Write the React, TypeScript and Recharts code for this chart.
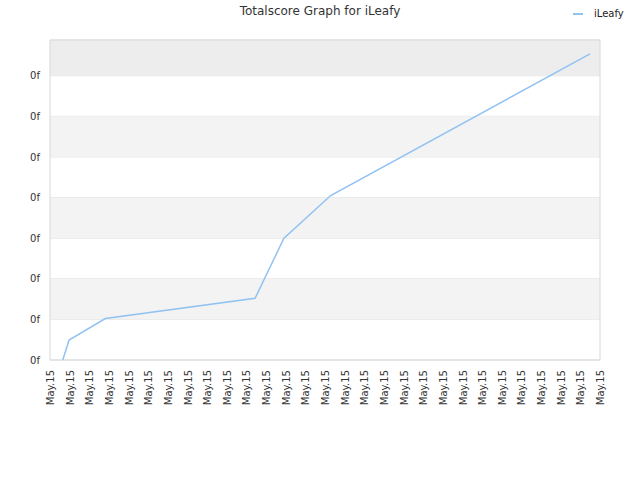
import { LineChart, Line, XAxis, YAxis, CartesianGrid, ReferenceArea } from 'recharts';

// readings from the reference (x in day-slot units, y in score units)
const xVals = [0.65, 0.97, 2.82, 10.44, 11.91, 14.29, 27.49];
const scores = [0, 0.49, 1.02, 1.52, 3.0, 4.05, 7.54];
const xTicks = Array.from({ length: 29 }, (_, i) => i);
const yTicks = [0, 1, 2, 3, 4, 5, 6, 7];
const xLabel = 'May.15';
const yLabel = '0f';
const yMax = 7.88;
const bands = [
  { y1: 7, y2: yMax, fill: '#ededed' },
  { y1: 5, y2: 6, fill: '#f3f3f3' },
  { y1: 3, y2: 4, fill: '#f3f3f3' },
  { y1: 1, y2: 2, fill: '#f3f3f3' },
];

const LINE_COLOR = '#90c2f2';
const FONT = "'DejaVu Sans', Verdana, sans-serif";

const data = xVals.map((x, i) => ({ x, score: scores[i] }));

function XTick({ x, y }: { x?: number; y?: number }) {
  const tx = x ?? 0;
  const ty = (y ?? 0) + 2;
  return (
    <text
      x={tx}
      y={ty}
      dy={4}
      transform={`rotate(-90, ${tx}, ${ty})`}
      textAnchor="end"
      fontSize={10}
      fontFamily={FONT}
      fill="#333"
    >
      {xLabel}
    </text>
  );
}

export default function App() {
  return (
    <div style={{ position: 'relative', width: 640, height: 480, background: '#fff' }}>
      <style>{'body{margin:0}'}</style>
      <div
        style={{
          position: 'absolute',
          top: 4,
          left: 0,
          width: 640,
          textAlign: 'center',
          fontFamily: FONT,
          fontSize: 12,
          color: '#333',
        }}
      >
        Totalscore Graph for iLeafy
      </div>
      <div
        style={{
          position: 'absolute',
          top: 8,
          left: 573,
          display: 'flex',
          alignItems: 'center',
          fontFamily: FONT,
          fontSize: 10,
          color: '#222',
        }}
      >
        <span style={{ display: 'inline-block', width: 10, height: 2, background: LINE_COLOR, marginRight: 11 }} />
        iLeafy
      </div>
      <LineChart width={640} height={480} data={data} margin={{ top: 40, right: 40, bottom: 0, left: 0 }}>
        {bands.map((b, i) => (
          <ReferenceArea key={i} y1={b.y1} y2={b.y2} fill={b.fill} fillOpacity={1} stroke="none" />
        ))}
        <CartesianGrid vertical={false} stroke="#e2e2e2" />
        <ReferenceArea x1={0} x2={28} y1={0} y2={yMax} fill="none" stroke="#d8d8d8" strokeOpacity={1} />
        <XAxis
          dataKey="x"
          type="number"
          domain={[0, 28]}
          ticks={xTicks}
          interval={0}
          height={120}
          axisLine={false}
          tickLine={false}
          tick={<XTick />}
        />
        <YAxis
          type="number"
          domain={[0, yMax]}
          ticks={yTicks}
          width={50}
          axisLine={false}
          tickLine={false}
          tickSize={8}
          tickMargin={2}
          tickFormatter={() => yLabel}
          tick={{ fontSize: 10, fontFamily: FONT, fill: '#333' }}
        />
        <Line
          type="linear"
          dataKey="score"
          stroke={LINE_COLOR}
          strokeWidth={1.5}
          dot={false}
          isAnimationActive={false}
        />
      </LineChart>
    </div>
  );
}
